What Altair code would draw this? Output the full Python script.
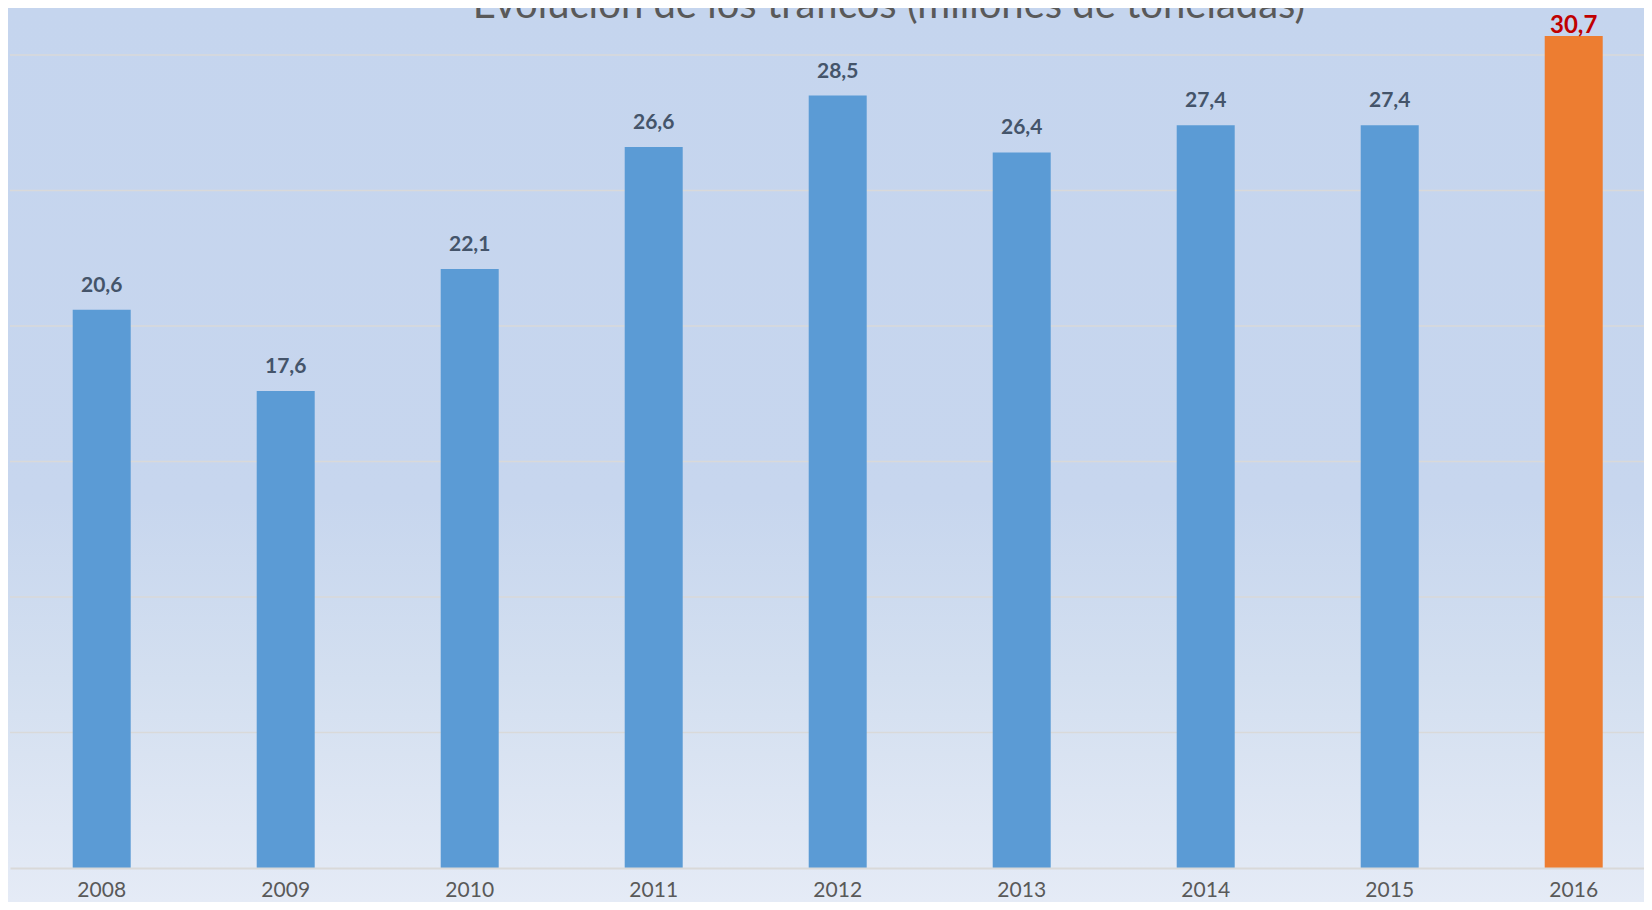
import altair as alt
import pandas as pd

years = ["2008", "2009", "2010", "2011", "2012", "2013", "2014", "2015", "2016"]
values = [20.6, 17.6, 22.1, 26.6, 28.5, 26.4, 27.4, 27.4, 30.7]
highlight_year = "2016"
grid_values = [5, 10, 15, 20, 25, 30]
title_text = "Evolución de los tráficos (millones de toneladas)"

df = pd.DataFrame({
    "year": years,
    "value": values,
    "label": [f"{v:.1f}".replace(".", ",") for v in values],
})
grid_df = pd.DataFrame({"v": grid_values})
title_df = pd.DataFrame({"t": [title_text]})

W, H = 1634, 860
PAD_B = 34
x_scale = alt.Scale(paddingInner=0.6848, paddingOuter=0.2826, align=0.603)
y_scale = alt.Scale(domain=[0, 31.73], nice=False, zero=True)

x_enc = alt.X(
    "year:N", scale=x_scale, sort=years,
    axis=alt.Axis(title=None, ticks=False, domainColor="#d9d9d9", domainWidth=2,
                  labelFont="Lato", labelFontSize=21, labelColor="#595959",
                  labelPadding=28, labelBaseline="alphabetic", labelAngle=0, zindex=1),
)

bg = alt.Chart(title_df).mark_rect(
    fill=alt.LinearGradient(
        gradient="linear",
        stops=[
            alt.GradientStop(color="#c5d5ee", offset=0),
            alt.GradientStop(color="#c7d6ee", offset=0.55),
            alt.GradientStop(color="#d3dff0", offset=0.75),
            alt.GradientStop(color="#e5ebf6", offset=1),
        ],
        x1=0, x2=0, y1=0, y2=1,
    )
).encode(x=alt.value(-2), x2=alt.value(W), y=alt.value(0), y2=alt.value(H + PAD_B))

grid = alt.Chart(grid_df).mark_rule(color="#d9d9d9", strokeWidth=1.5).encode(
    y=alt.Y("v:Q", scale=y_scale, axis=None)
)

bars = alt.Chart(df).mark_bar().encode(
    x=x_enc,
    y=alt.Y("value:Q", scale=y_scale, axis=None),
    color=alt.condition(alt.datum.year == highlight_year, alt.value("#ed7d31"), alt.value("#5b9bd5")),
)

labels = alt.Chart(df).transform_filter(alt.datum.year != highlight_year).mark_text(
    font="Lato", fontWeight="bold", fontSize=21, color="#44546a", baseline="alphabetic", dy=-18
).encode(
    x=alt.X("year:N", sort=years),
    y=alt.Y("value:Q"),
    text="label:N",
)

hl_label = alt.Chart(df).transform_filter(alt.datum.year == highlight_year).mark_text(
    font="Lato", fontWeight="bold", fontSize=24, color="#c00000", baseline="alphabetic", dy=-3
).encode(
    x=alt.X("year:N", sort=years),
    y=alt.Y("value:Q"),
    text="label:N",
)

title = alt.Chart(title_df).mark_text(
    font="Lato", fontSize=40, color="#595959", baseline="alphabetic", align="center"
).encode(x=alt.value(879), y=alt.value(10), text="t:N")

chart = alt.layer(bg, grid, bars, labels, hl_label, title).properties(
    width=W, height=H,
    autosize=alt.AutoSizeParams(type="none"),
    padding={"left": 2, "top": 0, "right": 0, "bottom": PAD_B},
    background="#dfe7f4",
).configure_view(strokeWidth=0)

chart.save("out.html", embed_options={"renderer": "svg", "actions": False})
